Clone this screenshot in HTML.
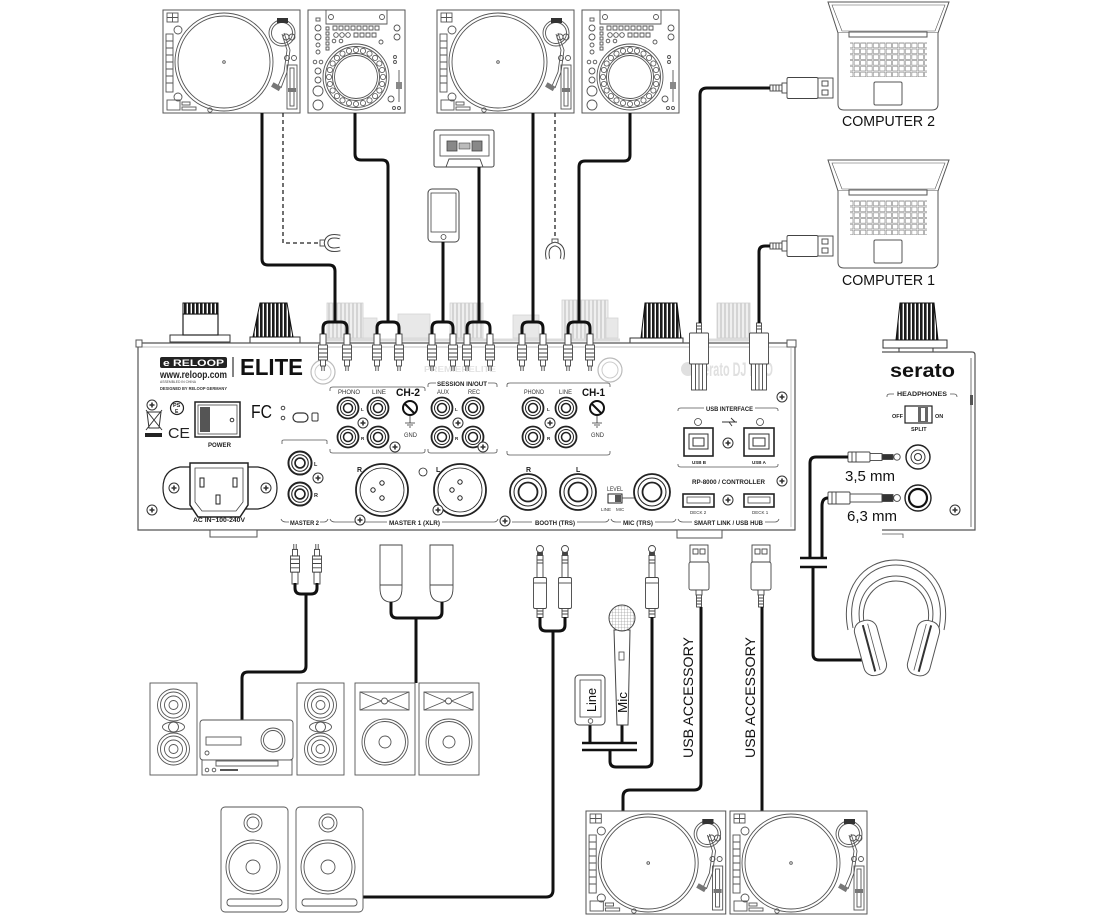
<!DOCTYPE html>
<html><head><meta charset="utf-8"><style>
html,body{margin:0;padding:0;background:#fff;width:1118px;height:916px;overflow:hidden}
svg{display:block}
text{font-family:"Liberation Sans",sans-serif}
</style></head><body>
<svg width="1118" height="916" viewBox="0 0 1118 916" xmlns="http://www.w3.org/2000/svg" xmlns:xlink="http://www.w3.org/1999/xlink">
<defs>
<pattern id="rib" width="4" height="10" patternUnits="userSpaceOnUse"><rect width="4" height="10" fill="#fff"/><rect width="2.6" height="10" fill="#1a1a1a"/></pattern>
<pattern id="ribL" width="4" height="10" patternUnits="userSpaceOnUse"><rect width="4" height="10" fill="#efefef"/><rect width="2" height="10" fill="#d4d4d4"/></pattern>
<pattern id="kb" x="0" y="0" width="6.4" height="5.8" patternUnits="userSpaceOnUse"><rect x="0.6" y="0.6" width="5.2" height="4.6" fill="#fff" stroke="#777" stroke-width="0.55"/></pattern>
<pattern id="mesh" width="3" height="3" patternUnits="userSpaceOnUse"><rect width="3" height="3" fill="#fff"/><path d="M0 0H3M0 0V3" stroke="#888" stroke-width="0.6"/></pattern>

<g id="tt">
<rect x="0" y="0" width="137" height="103" fill="#fff" stroke="#555" stroke-width="1"/>
<g fill="none" stroke="#555" stroke-width="0.9">
<circle cx="61" cy="52" r="49"/><circle cx="61" cy="52" r="46"/><circle cx="61" cy="52" r="1.3"/>
<rect x="4" y="3" width="11" height="9"/><path d="M9.5 3V12M4 7.5H15"/>
<circle cx="15" cy="20" r="4"/>
<rect x="3" y="24" width="7" height="58"/>
<path d="M3 31H10M3 38H10M3 45H10M3 52H10M3 59H10M3 66H10M3 73H10"/>
<circle cx="15" cy="87" r="4"/>
<rect x="4" y="90" width="13" height="10"/>
<rect x="19" y="92" width="8" height="3"/><rect x="19" y="97" width="14" height="3"/>
<circle cx="47" cy="100" r="2.2"/>
<circle cx="119" cy="23" r="13"/><circle cx="119" cy="23" r="10.5"/>
<circle cx="123" cy="27" r="3"/><circle cx="129" cy="27" r="3"/>
<path d="M119 24 L124 40 L121 62 L115 76 M121 23 L127 40 L124 62 L118 78"/>
<circle cx="124" cy="48" r="2.5"/><circle cx="131" cy="48" r="2.5"/>
<rect x="124" y="55" width="10" height="44"/><rect x="127" y="58" width="4" height="38"/>
</g>
<rect x="114" y="8" width="11" height="5" fill="#333"/>
<rect x="125" y="78" width="8" height="4" fill="#777"/>
<rect x="109" y="74" width="9" height="5" fill="#777" transform="rotate(30 113 76)"/>
</g>

<circle id="jd" cx="75" cy="67" r="2.6" fill="#fff" stroke="#555" stroke-width="0.8"/>
<g id="cdj">
<rect x="0" y="0" width="97" height="103" fill="#fff" stroke="#555" stroke-width="1"/>
<g fill="none" stroke="#555" stroke-width="0.9">
<path d="M18 0V14H79V0"/>
<circle cx="23" cy="7" r="2.5"/><circle cx="74" cy="7" r="2.5"/>
<path d="M25 16h4v4h-4zM31 16h4v4h-4zM37 16h4v4h-4zM43 16h4v4h-4zM49 16h4v4h-4zM55 16h4v4h-4zM61 16h4v4h-4zM67 16h4v4h-4z"/>
<circle cx="28" cy="25" r="2.3"/><circle cx="34" cy="25" r="2.3"/><circle cx="40" cy="25" r="2.3"/>
<path d="M46 23h4v4h-4zM52 23h4v4h-4zM58 23h4v4h-4zM64 23h4v4h-4z"/>
<path d="M18 17h3v3h-3zM18 22h3v3h-3zM18 27h3v3h-3zM18 32h3v3h-3zM18 37h3v3h-3z"/>
<circle cx="26" cy="31" r="1.8"/><circle cx="33" cy="31" r="1.8"/><circle cx="73" cy="32" r="2"/>
<circle cx="48" cy="67" r="33"/><circle cx="48" cy="67" r="30.5"/>
<circle cx="48" cy="67" r="23.5"/><circle cx="48" cy="67" r="21.5"/>
<rect x="8" y="8" width="4" height="3"/>
<circle cx="10" cy="18" r="3"/><circle cx="10" cy="27" r="3"/><circle cx="10" cy="35" r="2"/><circle cx="10" cy="42" r="2"/>
<circle cx="7" cy="52" r="1.8"/><circle cx="13" cy="52" r="1.8"/>
<circle cx="10" cy="61" r="3"/><circle cx="10" cy="70" r="3"/>
<circle cx="10" cy="81" r="5"/><circle cx="10" cy="95" r="5"/>
<circle cx="89" cy="18" r="3"/><circle cx="89" cy="27" r="3"/><circle cx="87" cy="47" r="1.5"/><circle cx="87" cy="52" r="1.5"/>
<path d="M91 60V92"/><circle cx="83" cy="89" r="3"/><circle cx="86" cy="98" r="1.5"/><circle cx="91" cy="98" r="1.5"/>
</g>
<rect x="88" y="72" width="6" height="7" fill="#888"/>
<use xlink:href="#jd"/><use xlink:href="#jd" transform="rotate(15 48 67)"/><use xlink:href="#jd" transform="rotate(30 48 67)"/><use xlink:href="#jd" transform="rotate(45 48 67)"/><use xlink:href="#jd" transform="rotate(60 48 67)"/><use xlink:href="#jd" transform="rotate(75 48 67)"/><use xlink:href="#jd" transform="rotate(90 48 67)"/><use xlink:href="#jd" transform="rotate(105 48 67)"/><use xlink:href="#jd" transform="rotate(120 48 67)"/><use xlink:href="#jd" transform="rotate(135 48 67)"/><use xlink:href="#jd" transform="rotate(150 48 67)"/><use xlink:href="#jd" transform="rotate(165 48 67)"/><use xlink:href="#jd" transform="rotate(180 48 67)"/><use xlink:href="#jd" transform="rotate(195 48 67)"/><use xlink:href="#jd" transform="rotate(210 48 67)"/><use xlink:href="#jd" transform="rotate(225 48 67)"/><use xlink:href="#jd" transform="rotate(240 48 67)"/><use xlink:href="#jd" transform="rotate(255 48 67)"/><use xlink:href="#jd" transform="rotate(270 48 67)"/><use xlink:href="#jd" transform="rotate(285 48 67)"/><use xlink:href="#jd" transform="rotate(300 48 67)"/><use xlink:href="#jd" transform="rotate(315 48 67)"/><use xlink:href="#jd" transform="rotate(330 48 67)"/><use xlink:href="#jd" transform="rotate(345 48 67)"/>
</g>

<g id="lap" stroke="#555" stroke-width="1">
<path d="M0 0H121L110 31H10Z" fill="#fff"/>
<path d="M4 3H117L107 29H14Z" fill="none" stroke-width="0.6"/>
<path d="M10 31V102Q10 108 16 108H104Q110 108 110 102V31" fill="#fff"/>
<rect x="21" y="30" width="78" height="5" fill="#fff"/>
<rect x="22" y="40" width="77" height="35" fill="url(#kb)" stroke="none"/>
<rect x="46" y="80" width="28" height="23" rx="1.5" fill="#fff"/>
</g>

<g id="rcap" fill="#fff" stroke="#444" stroke-width="0.9">
<rect x="-3" y="0" width="6" height="11"/>
<rect x="-4.5" y="11" width="9" height="15"/>
<path d="M-4.5 15H4.5M-4.5 19H4.5M-4.5 23H4.5" fill="none"/>
<rect x="-2.5" y="26" width="5" height="6"/>
<path d="M-1.2 32V37M1.2 32V37" fill="none"/>
</g>
<g id="trs" fill="#fff" stroke="#444" stroke-width="0.9">
<circle cx="0" cy="4" r="3.5"/>
<rect x="-2.5" y="7.5" width="5" height="3" fill="#444"/>
<rect x="-3" y="10.5" width="6" height="22"/>
<path d="M-3 15H3M-3 18H3" fill="none"/>
<rect x="-6.5" y="32.5" width="13" height="31" rx="1.5"/>
<path d="M-6.5 38H6.5" fill="none"/>
<rect x="-3" y="63.5" width="6" height="9"/>
<path d="M-3 66H3M-3 69H3" fill="none"/>
</g>
<g id="usba" fill="#fff" stroke="#444" stroke-width="0.9">
<rect x="-9" y="0" width="18" height="17"/>
<rect x="-6" y="4" width="5" height="5"/><rect x="1" y="4" width="5" height="5"/>
<rect x="-10" y="17" width="20" height="28" rx="2"/>
<rect x="-3" y="45" width="6" height="5"/>
<rect x="-2.5" y="50" width="5" height="12"/>
<path d="M-2.5 53H2.5M-2.5 56H2.5M-2.5 59H2.5" fill="none"/>
</g>
<g id="usbb" fill="#fff" stroke="#444" stroke-width="0.9">
<rect x="-2.5" y="0" width="5" height="10"/>
<path d="M-2.5 3H2.5M-2.5 6H2.5" fill="none"/>
<rect x="-9.5" y="10" width="19" height="31" rx="1"/>
<rect x="-7.5" y="41" width="15" height="26"/>
<path d="M-3.5 41V67M0 41V67M3.5 41V67" fill="none"/>
</g>
<g id="usbh" fill="#fff" stroke="#444" stroke-width="0.9">
<rect x="0" y="-3" width="12" height="6"/>
<path d="M3 -3V3M6 -3V3M9 -3V3" fill="none"/>
<rect x="12" y="-5" width="5" height="10"/>
<rect x="17" y="-10.5" width="31" height="21" rx="1.5"/>
<rect x="48" y="-10" width="15" height="20"/>
<rect x="52" y="-7" width="6" height="5"/><rect x="52" y="2" width="6" height="5"/>
</g>
<g id="rj" fill="#fff" stroke="#222"><circle r="10.5" stroke-width="1.8"/><circle r="7.5" stroke-width="1"/><circle r="4.5" stroke-width="1.5"/></g>
<g id="sc" fill="#fff" stroke="#333" stroke-width="1"><circle r="5"/><path d="M-2.5 0H2.5M0 -2.5V2.5" stroke-width="1.6"/></g>
<g id="hs" fill="#fff" stroke="#555" stroke-width="0.9">
<rect x="0" y="0" width="47" height="92"/>
<circle cx="23.5" cy="22" r="16"/><circle cx="23.5" cy="22" r="13"/><circle cx="23.5" cy="22" r="9"/><circle cx="23.5" cy="22" r="4.5"/>
<ellipse cx="23.5" cy="44" rx="11" ry="5"/><ellipse cx="23.5" cy="44" rx="5" ry="5"/>
<circle cx="23.5" cy="66" r="16"/><circle cx="23.5" cy="66" r="13"/><circle cx="23.5" cy="66" r="9"/><circle cx="23.5" cy="66" r="4.5"/>
</g>
<g id="pa" fill="#fff" stroke="#555" stroke-width="0.9">
<rect x="0" y="0" width="60" height="92"/>
<rect x="5" y="9" width="49" height="18"/>
<path d="M5 9L26.5 18M5 27L26.5 18M54 9L32.5 18M54 27L32.5 18" fill="none"/>
<circle cx="29.5" cy="18" r="3"/>
<circle cx="30" cy="59" r="23"/><circle cx="30" cy="59" r="20.5"/><circle cx="30" cy="59" r="6"/>
</g>
<g id="mon" fill="#fff" stroke="#555" stroke-width="0.9">
<rect x="0" y="0" width="67" height="105" rx="4"/>
<circle cx="32" cy="16" r="9"/><circle cx="32" cy="16" r="6"/>
<circle cx="32" cy="60" r="27"/><circle cx="32" cy="60" r="24"/><circle cx="32" cy="60" r="7"/>
<rect x="6" y="92" width="55" height="7" rx="3"/>
</g>
</defs>

<!-- top devices -->
<use xlink:href="#tt" transform="translate(163,10)"/>
<use xlink:href="#cdj" transform="translate(308,10)"/>
<use xlink:href="#tt" transform="translate(437,10)"/>
<use xlink:href="#cdj" transform="translate(582,10)"/>

<!-- laptops -->
<use xlink:href="#lap" transform="translate(828,2)"/>
<use xlink:href="#lap" transform="translate(828,160)"/>
<text x="842" y="126" font-size="14.5" textLength="93" lengthAdjust="spacingAndGlyphs" fill="#111">COMPUTER 2</text>
<text x="842" y="285" font-size="14.5" textLength="93" lengthAdjust="spacingAndGlyphs" fill="#111">COMPUTER 1</text>

<!-- cassette -->
<rect x="434" y="130" width="60" height="37" rx="2" fill="#fff" stroke="#444"/>
<rect x="440" y="135" width="49" height="21" fill="none" stroke="#444" stroke-width="0.8"/>
<rect x="447" y="141" width="10" height="10" fill="#888" stroke="#444" stroke-width="0.8"/>
<rect x="472" y="141" width="10" height="10" fill="#888" stroke="#444" stroke-width="0.8"/>
<rect x="459" y="143" width="11" height="6" fill="#bbb" stroke="#444" stroke-width="0.6"/>
<path d="M446 167L449 159H480L483 167" fill="none" stroke="#444" stroke-width="0.9"/>

<!-- phone top -->
<rect x="428" y="189" width="31" height="53" rx="4" fill="#fff" stroke="#444"/>
<rect x="431" y="193" width="25" height="39" fill="none" stroke="#444" stroke-width="0.8"/>
<circle cx="443.5" cy="237" r="2.5" fill="none" stroke="#444" stroke-width="0.8"/>

<!-- ghost background items behind mixer top -->
<g fill="url(#ribL)" stroke="#d0d0d0" stroke-width="0.8">
<rect x="327" y="303" width="36" height="35"/>
<rect x="450" y="303" width="33" height="35"/>
<rect x="562" y="300" width="46" height="40"/>
<rect x="717" y="303" width="33" height="35"/>
</g>
<g fill="#e8e8e8" stroke="#d4d4d4" stroke-width="0.8">
<rect x="363" y="318" width="14" height="20"/>
<rect x="398" y="314" width="32" height="24"/>
<rect x="513" y="315" width="26" height="23"/>
<rect x="606" y="318" width="12" height="20"/>
</g>
<path d="M320 340H620M700 340H760" stroke="#dcdcdc" stroke-width="3"/>

<!-- knobs -->
<rect x="170" y="335" width="60" height="7" fill="#fff" stroke="#333"/>
<rect x="183" y="314" width="35" height="21" fill="#fff" stroke="#222" stroke-width="1.2"/>
<rect x="183" y="303" width="35" height="11" fill="url(#rib)" stroke="#111"/>
<rect x="250" y="337" width="50" height="6" fill="#fff" stroke="#333"/>
<path d="M260 303H287L293 337H253Z" fill="url(#rib)" stroke="#111"/>
<rect x="630" y="338" width="53" height="5" fill="#fff" stroke="#333"/>
<path d="M645 303H677L681 338H641Z" fill="url(#rib)" stroke="#111"/>

<!-- mixer panel -->
<path d="M138 343H795V530H138Z" fill="#fff" stroke="#555" stroke-width="1.2"/>
<path d="M141 347H790M791 348V527" stroke="#aaa" stroke-width="0.7" fill="none"/>
<rect x="136" y="340" width="6" height="7" fill="#fff" stroke="#555"/>
<rect x="787" y="340" width="9" height="7" fill="#fff" stroke="#555"/>
<rect x="210" y="530" width="47" height="7" fill="#fff" stroke="#555"/>
<rect x="677" y="530" width="45" height="8" fill="#fff" stroke="#555"/>

<!-- ghost logos -->
<circle cx="323" cy="372" r="12" fill="none" stroke="#bbb" stroke-width="1.2"/>
<circle cx="323" cy="372" r="8" fill="none" stroke="#ccc"/>
<circle cx="610" cy="370" r="12" fill="none" stroke="#bbb" stroke-width="1.2"/>
<circle cx="610" cy="370" r="8" fill="none" stroke="#ccc"/>
<text x="424" y="372" font-size="8.5" font-weight="bold" fill="#e2e2e2" textLength="72" lengthAdjust="spacingAndGlyphs">PREMIERELITE</text>
<circle cx="688" cy="369" r="7" fill="#e0e0e0"/>
<text x="697" y="376" font-size="19" font-weight="bold" fill="#e0e0e0" textLength="76" lengthAdjust="spacingAndGlyphs">serato DJ PRO</text>

<!-- left block -->
<rect x="160" y="357" width="67" height="11" rx="2" fill="#222"/>
<text x="163" y="366" font-size="9" font-weight="bold" fill="#fff" textLength="61" lengthAdjust="spacingAndGlyphs">e RELOOP</text>
<line x1="233" y1="357" x2="233" y2="377" stroke="#333" stroke-width="1.2"/>
<text x="240" y="375" font-size="23" font-weight="bold" fill="#111" textLength="63" lengthAdjust="spacingAndGlyphs">ELITE</text>
<text x="160" y="378" font-size="10" font-weight="bold" fill="#222" textLength="67" lengthAdjust="spacingAndGlyphs">www.reloop.com</text>
<text x="160" y="383" font-size="3.8" fill="#444" textLength="36" lengthAdjust="spacingAndGlyphs">ASSEMBLED IN CHINA</text>
<text x="160" y="390" font-size="4.5" font-weight="bold" fill="#333" textLength="67" lengthAdjust="spacingAndGlyphs">DESIGNED BY RELOOP GERMANY</text>
<use xlink:href="#sc" transform="translate(152,405)"/>
<use xlink:href="#sc" transform="translate(152,510)"/>
<circle cx="177" cy="408" r="6.5" fill="#fff" stroke="#222" stroke-width="1.2"/>
<text x="173" y="407" font-size="5.5" font-weight="bold" fill="#222">PS</text>
<text x="175" y="413" font-size="5" font-weight="bold" fill="#222">E</text>
<path d="M147 412H161L159 428H149ZM146 410L162 430M162 410L146 430" fill="none" stroke="#333" stroke-width="1"/>
<rect x="145" y="433" width="17" height="4" fill="#222"/>
<text x="168" y="438" font-size="15" fill="#222" textLength="22" lengthAdjust="spacingAndGlyphs">CE</text>
<rect x="195" y="402" width="45" height="35" fill="#fff" stroke="#222" stroke-width="1.5"/>
<rect x="198" y="405" width="39" height="29" fill="#fff" stroke="#444" stroke-width="0.8"/>
<rect x="200" y="407" width="10" height="25" fill="#555"/>
<circle cx="232" cy="420" r="1.8" fill="none" stroke="#333"/>
<text x="208" y="447" font-size="6.5" font-weight="bold" fill="#222" textLength="23" lengthAdjust="spacingAndGlyphs">POWER</text>
<text x="251" y="418" font-size="18" fill="#111" textLength="21" lengthAdjust="spacingAndGlyphs">FC</text>
<circle cx="283" cy="408" r="1.8" fill="none" stroke="#444"/>
<circle cx="283" cy="418" r="1.8" fill="none" stroke="#444"/>
<rect x="293" y="413" width="15" height="9" rx="4.5" fill="none" stroke="#333" stroke-width="1.2"/>
<rect x="312" y="413" width="6" height="8" rx="1" fill="none" stroke="#333"/>
<!-- AC inlet -->
<path d="M180 467H258Q277 470 277 488Q277 506 258 509H180Q163 506 163 488Q163 470 180 467Z" fill="#fff" stroke="#222" stroke-width="1.2"/>
<use xlink:href="#sc" transform="translate(174,488)"/>
<use xlink:href="#sc" transform="translate(266,488)"/>
<path d="M190 463H248V505L240 517H198L190 505Z" fill="#fff" stroke="#222" stroke-width="1.5"/>
<path d="M195 468H243V502L236 511H202L195 502Z" fill="#fff" stroke="#444" stroke-width="0.8"/>
<rect x="200" y="478" width="4" height="9" fill="#fff" stroke="#222"/>
<rect x="233" y="478" width="4" height="9" fill="#fff" stroke="#222"/>
<rect x="216" y="495" width="4" height="9" fill="#fff" stroke="#222"/>
<text x="193" y="522" font-size="6" font-weight="bold" fill="#222" textLength="52" lengthAdjust="spacingAndGlyphs">AC IN~100-240V</text>

<!-- Master 2 -->
<path d="M282 444V441Q282 440 284 440H325Q327 440 327 441V444" fill="none" stroke="#555" stroke-width="0.8"/>
<use xlink:href="#rj" transform="translate(300,463) scale(1.1)"/>
<use xlink:href="#rj" transform="translate(300,494) scale(1.1)"/>
<use xlink:href="#sc" transform="translate(318,478)"/>
<text x="314" y="466" font-size="5.5" font-weight="bold" fill="#222">L</text>
<text x="314" y="497" font-size="5.5" font-weight="bold" fill="#222">R</text>

<!-- bottom label line -->
<g fill="none" stroke="#555" stroke-width="0.8">
<path d="M281 519Q282 522 286 522H289M320 522H324Q327 522 328 519"/>
<path d="M330 519Q331 522 335 522H387M442 522H494Q497 522 498 519"/>
<path d="M512 522H532M577 522H605Q608 522 609 519"/>
<path d="M611 519Q612 522 616 522H621M655 522H672Q675 522 676 519"/>
<path d="M678 519Q679 522 683 522H692M765 522H775Q778 522 779 519"/>
</g>
<use xlink:href="#sc" transform="translate(505,521)"/>
<text x="290" y="525" font-size="6.5" font-weight="bold" fill="#222" textLength="29" lengthAdjust="spacingAndGlyphs">MASTER 2</text>
<text x="389" y="525" font-size="6.5" font-weight="bold" fill="#222" textLength="51" lengthAdjust="spacingAndGlyphs">MASTER 1 (XLR)</text>
<text x="535" y="525" font-size="6.5" font-weight="bold" fill="#222" textLength="40" lengthAdjust="spacingAndGlyphs">BOOTH (TRS)</text>
<text x="623" y="525" font-size="6.5" font-weight="bold" fill="#222" textLength="30" lengthAdjust="spacingAndGlyphs">MIC (TRS)</text>
<text x="694" y="525" font-size="6.5" font-weight="bold" fill="#222" textLength="69" lengthAdjust="spacingAndGlyphs">SMART LINK / USB HUB</text>

<!-- CH-2 / session / CH-1 brackets -->
<g fill="none" stroke="#555" stroke-width="0.8">
<path d="M330 391V389Q330 387 333 387H422Q425 387 425 389V391"/>
<path d="M330 449V451Q330 453 333 453H422Q425 453 425 451V449"/>
<path d="M428 387V385Q428 383 431 383H436M488 383H494Q497 383 497 385V387"/>
<path d="M428 449V451Q428 453 431 453H494Q497 453 497 451V449"/>
<path d="M507 387V385Q507 383 510 383H607Q610 383 610 385V387"/>
<path d="M507 451V453Q507 455 510 455H607Q610 455 610 453V451"/>
</g>
<text x="338" y="394" font-size="6.5" fill="#333" textLength="22" lengthAdjust="spacingAndGlyphs">PHONO</text>
<text x="372" y="394" font-size="6.5" fill="#333" textLength="14" lengthAdjust="spacingAndGlyphs">LINE</text>
<text x="396" y="396" font-size="11" font-weight="bold" fill="#111" textLength="24" lengthAdjust="spacingAndGlyphs">CH-2</text>
<text x="437" y="386" font-size="6.5" font-weight="bold" fill="#222" textLength="50" lengthAdjust="spacingAndGlyphs">SESSION IN/OUT</text>
<text x="437" y="394" font-size="6.5" fill="#333" textLength="12" lengthAdjust="spacingAndGlyphs">AUX</text>
<text x="468" y="394" font-size="6.5" fill="#333" textLength="12" lengthAdjust="spacingAndGlyphs">REC</text>
<text x="524" y="394" font-size="6.5" fill="#333" textLength="20" lengthAdjust="spacingAndGlyphs">PHONO</text>
<text x="559" y="394" font-size="6.5" fill="#333" textLength="13" lengthAdjust="spacingAndGlyphs">LINE</text>
<text x="582" y="396" font-size="11" font-weight="bold" fill="#111" textLength="23" lengthAdjust="spacingAndGlyphs">CH-1</text>

<use xlink:href="#rj" transform="translate(348,408)"/><use xlink:href="#rj" transform="translate(378,408)"/>
<use xlink:href="#rj" transform="translate(348,437)"/><use xlink:href="#rj" transform="translate(378,437)"/>
<use xlink:href="#sc" transform="translate(363,423)"/>
<use xlink:href="#rj" transform="translate(442,408)"/><use xlink:href="#rj" transform="translate(473,408)"/>
<use xlink:href="#rj" transform="translate(442,437)"/><use xlink:href="#rj" transform="translate(473,437)"/>
<use xlink:href="#sc" transform="translate(458,423)"/>
<use xlink:href="#rj" transform="translate(533,408)"/><use xlink:href="#rj" transform="translate(566,408)"/>
<use xlink:href="#rj" transform="translate(533,437)"/><use xlink:href="#rj" transform="translate(566,437)"/>
<use xlink:href="#sc" transform="translate(550,423)"/>
<g font-size="4.5" font-weight="bold" fill="#222">
<text x="361" y="411">L</text><text x="361" y="440">R</text>
<text x="455" y="411">L</text><text x="455" y="440">R</text>
<text x="547" y="411">L</text><text x="547" y="440">R</text>
</g>
<!-- GND -->
<g>
<circle cx="410" cy="408" r="7" fill="#fff" stroke="#111" stroke-width="2"/>
<path d="M405 404L414 413" stroke="#111" stroke-width="2"/>
<path d="M410 416V423M405 423H415M407 425H413M409 427H411" stroke="#333" stroke-width="0.8" fill="none"/>
<text x="404" y="437" font-size="6.5" fill="#333" textLength="13" lengthAdjust="spacingAndGlyphs">GND</text>
<circle cx="597" cy="408" r="7" fill="#fff" stroke="#111" stroke-width="2"/>
<path d="M592 404L601 413" stroke="#111" stroke-width="2"/>
<path d="M597 416V423M592 423H602M594 425H600M596 427H598" stroke="#333" stroke-width="0.8" fill="none"/>
<text x="591" y="437" font-size="6.5" fill="#333" textLength="13" lengthAdjust="spacingAndGlyphs">GND</text>
</g>

<!-- XLR -->
<g fill="#fff" stroke="#222">
<circle cx="382" cy="490" r="26" stroke-width="1.8"/>
<circle cx="382" cy="490" r="22" stroke-width="0.8"/>
<circle cx="382" cy="483" r="2.2"/><circle cx="373" cy="490" r="2.2"/><circle cx="382" cy="498" r="2.2"/>
<circle cx="460" cy="490" r="26" stroke-width="1.8"/>
<circle cx="460" cy="490" r="22" stroke-width="0.8"/>
<circle cx="460" cy="482" r="2.2"/><circle cx="452" cy="490" r="2.2"/><circle cx="460" cy="498" r="2.2"/>
<circle cx="423" cy="472" r="4" stroke-width="0.8"/>
</g>
<use xlink:href="#sc" transform="translate(395,447)"/>
<use xlink:href="#sc" transform="translate(360,520)"/>
<use xlink:href="#sc" transform="translate(483,447)"/>
<use xlink:href="#sc" transform="translate(438,510)"/>
<text x="357" y="472" font-size="7" font-weight="bold" fill="#222">R</text>
<text x="436" y="472" font-size="7" font-weight="bold" fill="#222">L</text>

<!-- Booth / Mic -->
<g fill="#fff" stroke="#222">
<circle cx="528" cy="492" r="18" stroke-width="1.8"/><circle cx="528" cy="492" r="14" stroke-width="1"/><circle cx="528" cy="492" r="9.5" stroke-width="1.8"/>
<circle cx="578" cy="492" r="18" stroke-width="1.8"/><circle cx="578" cy="492" r="14" stroke-width="1"/><circle cx="578" cy="492" r="9.5" stroke-width="1.8"/>
<circle cx="652" cy="492" r="18" stroke-width="1.8"/><circle cx="652" cy="492" r="14" stroke-width="1"/><circle cx="652" cy="492" r="9.5" stroke-width="1.8"/>
</g>
<text x="526" y="472" font-size="7" font-weight="bold" fill="#222">R</text>
<text x="576" y="472" font-size="7" font-weight="bold" fill="#222">L</text>
<text x="607" y="491" font-size="6" fill="#333" textLength="16" lengthAdjust="spacingAndGlyphs">LEVEL</text>
<rect x="608" y="494" width="14" height="9" fill="#fff" stroke="#222"/>
<rect x="615" y="495" width="6" height="7" fill="#555"/>
<path d="M622 498H634" stroke="#333" stroke-width="0.8"/>
<text x="601" y="511" font-size="4.5" fill="#333">LINE</text>
<text x="616" y="511" font-size="4.5" fill="#333">MIC</text>

<!-- USB interface -->
<g fill="none" stroke="#555" stroke-width="0.8">
<path d="M678 411V410Q678 408 681 408H704M755 408H775Q778 408 778 410V411"/>
<path d="M678 464V465Q678 467 681 467H775Q778 467 778 465V464"/>
</g>
<text x="706" y="411" font-size="6.5" font-weight="bold" fill="#222" textLength="47" lengthAdjust="spacingAndGlyphs">USB INTERFACE</text>
<path d="M722 422H737M731 418L735 422M729 422L732 426" stroke="#333" stroke-width="0.9" fill="none"/>
<circle cx="698" cy="422" r="3.5" fill="#fff" stroke="#444" stroke-width="0.8"/>
<circle cx="760" cy="422" r="3.5" fill="#fff" stroke="#444" stroke-width="0.8"/>
<rect x="684" y="428" width="29" height="28" fill="#fff" stroke="#222" stroke-width="1.6"/>
<rect x="689" y="434" width="19" height="15" fill="#fff" stroke="#333" stroke-width="1"/>
<rect x="693" y="438" width="11" height="8" fill="#fff" stroke="#333" stroke-width="1"/>
<rect x="744" y="428" width="30" height="28" fill="#fff" stroke="#222" stroke-width="1.6"/>
<rect x="749" y="434" width="20" height="15" fill="#fff" stroke="#333" stroke-width="1"/>
<rect x="753" y="438" width="12" height="8" fill="#fff" stroke="#333" stroke-width="1"/>
<use xlink:href="#sc" transform="translate(728,443)"/>
<text x="692" y="464" font-size="4.5" font-weight="bold" fill="#222">USB B</text>
<text x="752" y="464" font-size="4.5" font-weight="bold" fill="#222">USB A</text>
<text x="692" y="484" font-size="6.5" font-weight="bold" fill="#222" textLength="73" lengthAdjust="spacingAndGlyphs">RP-8000 / CONTROLLER</text>
<rect x="683" y="494" width="31" height="13" fill="#fff" stroke="#222" stroke-width="1.6"/>
<rect x="687" y="497" width="23" height="6" fill="#fff" stroke="#444" stroke-width="0.8"/>
<rect x="744" y="494" width="30" height="13" fill="#fff" stroke="#222" stroke-width="1.6"/>
<rect x="748" y="497" width="22" height="6" fill="#fff" stroke="#444" stroke-width="0.8"/>
<use xlink:href="#sc" transform="translate(728,500)"/>
<text x="690" y="514" font-size="4.5" fill="#333">DECK 2</text>
<text x="752" y="514" font-size="4.5" fill="#333">DECK 1</text>
<use xlink:href="#sc" transform="translate(782,397)"/>
<use xlink:href="#sc" transform="translate(782,481)"/>

<!-- headphone side panel -->
<rect x="883" y="340" width="64" height="8" fill="#fff" stroke="#333"/>
<rect x="899" y="348" width="34" height="4" fill="#fff" stroke="#333"/>
<path d="M900 303H934L938 340H896Z" fill="url(#rib)" stroke="#111"/>
<path d="M882 352H972Q975 352 975 355V530H882" fill="none" stroke="#555" stroke-width="1.2"/>
<path d="M971 358V527" stroke="#555" stroke-width="0.8"/>
<rect x="970" y="395" width="3" height="10" fill="#555"/>
<path d="M882 534H903V538" fill="none" stroke="#555" stroke-width="0.8"/>
<text x="890" y="377" font-size="19" font-weight="bold" fill="#111" textLength="65" lengthAdjust="spacingAndGlyphs">serato</text>
<path d="M887 397V396Q887 394 890 394H894M950 394H954Q957 394 957 397" fill="none" stroke="#555" stroke-width="0.8"/>
<text x="897" y="396" font-size="6.5" font-weight="bold" fill="#222" textLength="50" lengthAdjust="spacingAndGlyphs">HEADPHONES</text>
<text x="892" y="418" font-size="5.5" font-weight="bold" fill="#222">OFF</text>
<text x="935" y="418" font-size="5.5" font-weight="bold" fill="#222">ON</text>
<rect x="905" y="406" width="27" height="17" fill="#fff" stroke="#222" stroke-width="1.2"/>
<rect x="918" y="407" width="10" height="15" fill="#666"/>
<rect x="921" y="408" width="4" height="13" fill="#fff"/>
<text x="911" y="431" font-size="5.5" font-weight="bold" fill="#222">SPLIT</text>
<circle cx="918" cy="457" r="12" fill="#fff" stroke="#222" stroke-width="1.4"/>
<circle cx="918" cy="457" r="7" fill="#fff" stroke="#333" stroke-width="1"/>
<circle cx="918" cy="457" r="3.5" fill="#fff" stroke="#333" stroke-width="1"/>
<circle cx="918" cy="498" r="13" fill="#fff" stroke="#222" stroke-width="1.4"/>
<circle cx="918" cy="498" r="9" fill="#fff" stroke="#111" stroke-width="2.2"/>
<use xlink:href="#sc" transform="translate(955,510)"/>

<!-- headphone plugs -->
<g fill="#fff" stroke="#444" stroke-width="0.9">
<rect x="848" y="452" width="22" height="10" rx="1"/>
<path d="M852 452V462M856 452V462" fill="none"/>
<rect x="870" y="453.5" width="12" height="7"/>
<rect x="882" y="454.5" width="11" height="5" fill="#333"/>
<circle cx="897" cy="457" r="3.2"/>
<rect x="828" y="492" width="22" height="12" rx="1"/>
<path d="M832 492V504M836 492V504" fill="none"/>
<rect x="850" y="494" width="32" height="8"/>
<rect x="882" y="494.5" width="11" height="7" fill="#333"/>
<circle cx="897" cy="498" r="3.4"/>
</g>
<text x="845" y="481" font-size="15" fill="#111" textLength="50" lengthAdjust="spacingAndGlyphs">3,5 mm</text>
<text x="847" y="521" font-size="15" fill="#111" textLength="50" lengthAdjust="spacingAndGlyphs">6,3 mm</text>

<!-- top RCA plugs -->
<use xlink:href="#rcap" transform="translate(323,334)"/><use xlink:href="#rcap" transform="translate(347,334)"/>
<use xlink:href="#rcap" transform="translate(377,334)"/><use xlink:href="#rcap" transform="translate(399,334)"/>
<use xlink:href="#rcap" transform="translate(432,334)"/><use xlink:href="#rcap" transform="translate(453,334)"/>
<use xlink:href="#rcap" transform="translate(467,334)"/><use xlink:href="#rcap" transform="translate(490,334)"/>
<use xlink:href="#rcap" transform="translate(522,334)"/><use xlink:href="#rcap" transform="translate(543,334)"/>
<use xlink:href="#rcap" transform="translate(568,334)"/><use xlink:href="#rcap" transform="translate(590,334)"/>
<!-- top USB-B plugs -->
<use xlink:href="#usbb" transform="translate(699,323)"/>
<use xlink:href="#usbb" transform="translate(759,323)"/>
<!-- computer usb plugs -->
<use xlink:href="#usbh" transform="translate(770,88)"/>
<use xlink:href="#usbh" transform="translate(770,246)"/>

<!-- bottom plugs -->
<use xlink:href="#rcap" transform="translate(295,584) scale(1,-1.08)"/>
<use xlink:href="#rcap" transform="translate(317,584) scale(1,-1.08)"/>
<g fill="#fff" stroke="#444" stroke-width="0.9">
<path d="M380 545H402V588Q402 602 391 602Q380 602 380 588Z"/>
<path d="M380 585H402" fill="none"/>
<path d="M430 545H453V588Q453 602 441.5 602Q430 602 430 588Z"/>
<path d="M430 585H453" fill="none"/>
</g>
<use xlink:href="#trs" transform="translate(540,545)"/>
<use xlink:href="#trs" transform="translate(565,545)"/>
<use xlink:href="#trs" transform="translate(652,545)"/>
<use xlink:href="#usba" transform="translate(699,545)"/>
<use xlink:href="#usba" transform="translate(761,545)"/>

<!-- cables -->
<g fill="none" stroke="#111" stroke-width="3" stroke-linejoin="round">
<path d="M262 113V259Q262 265 268 265H329Q335 265 335 271V322"/>
<path d="M355 113V154Q355 160 361 160H382Q388 160 388 166V322"/>
<path d="M443 242V322"/>
<path d="M479 167V322"/>
<path d="M533 113V322"/>
<path d="M630 113V155Q630 161 624 161H585Q579 161 579 167V322"/>
<path d="M323 334V328Q323 322 329 322H341Q347 322 347 328V334"/>
<path d="M377 334V328Q377 322 383 322H393Q399 322 399 328V334"/>
<path d="M432 334V328Q432 322 438 322H447Q453 322 453 328V334"/>
<path d="M467 334V328Q467 322 473 322H484Q490 322 490 328V334"/>
<path d="M522 334V328Q522 322 528 322H537Q543 322 543 328V334"/>
<path d="M568 334V328Q568 322 574 322H584Q590 322 590 328V334"/>
<path d="M700 323V95Q700 88 707 88H770"/>
<path d="M759 323V252Q759 246 765 246H770"/>
<path d="M295 583V588Q295 594 301 594H311Q317 594 317 588V583"/>
<path d="M306 594V666Q306 672 300 672H248Q242 672 242 678V720"/>
<path d="M391 602V612Q391 618 397 618H436Q442 618 442 612V602"/>
<path d="M416 618V683"/>
<path d="M540 617V625Q540 631 546 631H559Q565 631 565 625V617"/>
<path d="M553 631V890Q553 897 546 897H363"/>
<path d="M652 617V761Q652 767 646 767H616Q610 767 610 761V750"/>
<path d="M590 725V743"/>
<path d="M622 725V743"/>
<path d="M701 607V783Q701 790 694 790H630Q623 790 623 797V811"/>
<path d="M762 607V811"/>
<path d="M848 457H816Q810 457 810 463V558"/>
<path d="M828 498Q822 498 822 506V558"/>
<path d="M813 567V654Q813 660 819 660H864"/>
</g>
<g stroke="#111" stroke-width="2.6">
<path d="M582 743H637M582 750H637"/>
<path d="M800 558H827M800 567H827"/>
</g>
<!-- dashed ground -->
<g fill="none" stroke="#222" stroke-width="1.3" stroke-dasharray="4 3">
<path d="M283 113V243H320"/>
<path d="M555 113V239"/>
</g>
<rect x="320" y="240" width="5" height="6" fill="#fff" stroke="#444" stroke-width="0.9"/>
<path d="M340 237Q327 234 326 243Q327 252 340 249" fill="none" stroke="#444" stroke-width="4.5"/>
<path d="M340 237Q327 234 326 243Q327 252 340 249" fill="none" stroke="#fff" stroke-width="2.5"/>
<rect x="552" y="239" width="6" height="5" fill="#fff" stroke="#444" stroke-width="0.9"/>
<path d="M548 259Q545 246 555 244Q565 246 562 259" fill="none" stroke="#444" stroke-width="4.5"/>
<path d="M548 259Q545 246 555 244Q565 246 562 259" fill="none" stroke="#fff" stroke-width="2.5"/>

<!-- bottom left: hifi -->
<use xlink:href="#hs" transform="translate(150,683)"/>
<use xlink:href="#hs" transform="translate(297,683)"/>
<g fill="#fff" stroke="#555" stroke-width="0.9">
<rect x="200" y="720" width="93" height="40" rx="3"/>
<rect x="202" y="760" width="90" height="15"/>
<rect x="206" y="737" width="35" height="8"/>
<circle cx="273" cy="740" r="12"/><circle cx="273" cy="740" r="9.5"/>
<circle cx="207" cy="753" r="2"/>
<rect x="216" y="761" width="62" height="5"/>
<circle cx="207" cy="770" r="1.8"/><circle cx="214" cy="770" r="1.8"/>
</g>
<g fill="#555"><rect x="220" y="769" width="18" height="2"/></g>
<use xlink:href="#pa" transform="translate(355,683)"/>
<use xlink:href="#pa" transform="translate(419,683)"/>
<use xlink:href="#mon" transform="translate(221,807)"/>
<use xlink:href="#mon" transform="translate(296,807)"/>

<!-- line phone + mic -->
<rect x="575" y="675" width="30" height="50" rx="4" fill="#fff" stroke="#444"/>
<rect x="580" y="680" width="21" height="37" fill="#fff" stroke="#444" stroke-width="0.8"/>
<circle cx="590.5" cy="721" r="2.3" fill="none" stroke="#444" stroke-width="0.8"/>
<text transform="translate(596,712) rotate(-90)" font-size="13" fill="#111" textLength="24" lengthAdjust="spacingAndGlyphs">Line</text>
<path d="M614 630H630L628 725H617Z" fill="#fff" stroke="#444"/>
<circle cx="622" cy="618" r="13" fill="url(#mesh)" stroke="#444"/>
<rect x="619" y="652" width="5" height="8" fill="#fff" stroke="#444" stroke-width="0.8"/>
<text transform="translate(627,713) rotate(-90)" font-size="13" fill="#111" textLength="21" lengthAdjust="spacingAndGlyphs">Mic</text>

<!-- USB accessory labels -->
<text transform="translate(693,758) rotate(-90)" font-size="14" fill="#111" textLength="121" lengthAdjust="spacingAndGlyphs">USB ACCESSORY</text>
<text transform="translate(755,758) rotate(-90)" font-size="14" fill="#111" textLength="121" lengthAdjust="spacingAndGlyphs">USB ACCESSORY</text>

<!-- bottom turntables -->
<use xlink:href="#tt" transform="translate(586,811) scale(1.02,1)"/>
<use xlink:href="#tt" transform="translate(730,811) scale(1.0,1)"/>

<!-- headphones -->
<g fill="none" stroke="#555" stroke-width="1">
<path d="M848 630C840 590 862 560 896 560C930 560 952 590 944 630"/>
<path d="M853 628C846 592 866 565 896 565C926 565 946 592 939 628"/>
<path d="M860 624C855 596 872 576 896 576C920 576 937 596 932 624"/>
<path d="M864 622C860 599 876 581 896 581C916 581 932 599 928 622"/>
</g>
<g transform="rotate(-15 870 648)">
<rect x="859" y="620" width="23" height="56" rx="10" fill="#fff" stroke="#555"/>
<path d="M869 624V672" stroke="#333" stroke-width="2"/>
<path d="M874 624V672" stroke="#555" stroke-width="0.8"/>
</g>
<g transform="rotate(15 923 648)">
<rect x="912" y="620" width="23" height="56" rx="10" fill="#fff" stroke="#555"/>
<path d="M925 624V672" stroke="#333" stroke-width="2"/>
<path d="M920 624V672" stroke="#555" stroke-width="0.8"/>
</g>
</svg>
</body></html>
